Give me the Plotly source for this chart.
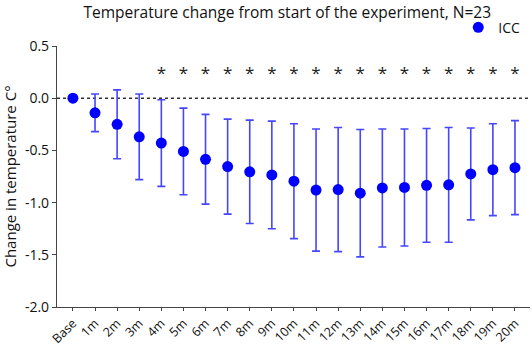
import plotly.graph_objects as go

categories = ["Base", "1m", "2m", "3m", "4m", "5m", "6m", "7m", "8m", "9m", "10m",
              "11m", "12m", "13m", "14m", "15m", "16m", "17m", "18m", "19m", "20m"]
mean_change = [0.0, -0.14, -0.25, -0.37, -0.43, -0.51, -0.585, -0.655, -0.705, -0.735, -0.795,
               -0.88, -0.875, -0.91, -0.86, -0.855, -0.835, -0.83, -0.725, -0.685, -0.665]
sd_change = [0.0, 0.18, 0.33, 0.41, 0.415, 0.415, 0.43, 0.455, 0.495, 0.515, 0.55,
             0.585, 0.595, 0.61, 0.565, 0.56, 0.545, 0.55, 0.44, 0.44, 0.45]
significant = [False, False, False, False] + [True] * 17
star_level = 0.22
y_ticks = [0.5, 0.0, -0.5, -1.0, -1.5, -2.0]
y_tick_labels = ["0.5", "0.0", "-0.5", "-1.0", "-1.5", "-2.0"]

FONT = "Open Sans"

fig = go.Figure()

# dotted zero reference line
fig.add_shape(type="line", xref="paper", yref="y", x0=0, x1=1, y0=0, y1=0,
              line=dict(color="#333333", width=1.5, dash="dot"), layer="below")

fig.add_trace(go.Scatter(
    x=categories, y=mean_change, mode="markers", name="ICC",
    marker=dict(color="#0000ff", size=11),
    error_y=dict(type="data", array=sd_change, visible=True,
                 color="#4646ff", thickness=1.6, width=4),
))

star_x = [c for c, s in zip(categories, significant) if s]
fig.add_trace(go.Scatter(
    x=star_x, y=[star_level] * len(star_x), mode="text", text=["*"] * len(star_x),
    textfont=dict(family=FONT, size=17, color="#222222"), showlegend=False,
    hoverinfo="skip",
))

fig.update_layout(
    width=532, height=347,
    margin=dict(l=57, r=2, t=46, b=40),
    paper_bgcolor="white", plot_bgcolor="white",
    font=dict(family=FONT, color="#111111"),
    title=dict(text="Temperature change from start of the experiment, N=23",
               x=0.54, xanchor="center", y=0.965, yanchor="middle",
               font=dict(family=FONT, size=15.5, color="#111111")),
    showlegend=True,
    legend=dict(x=0.99, xanchor="right", y=1.07, yanchor="middle",
                bgcolor="rgba(0,0,0,0)", font=dict(family=FONT, size=14),
                itemwidth=30),
)

fig.update_xaxes(
    type="category", range=[-0.72, 20.68], automargin=False,
    showline=True, linecolor="#444444", linewidth=1.2,
    ticks="outside", ticklen=3, tickcolor="#444444",
    tickangle=-45, tickfont=dict(family=FONT, size=12.5),
    showgrid=False, zeroline=False,
)
fig.update_yaxes(
    range=[-2.0, 0.5], tickvals=y_ticks, ticktext=y_tick_labels, automargin=False,
    showline=True, linecolor="#444444", linewidth=1.2,
    ticks="outside", ticklen=4, tickcolor="#444444",
    tickfont=dict(family=FONT, size=14),
    title=dict(text="Change in temperature C°", font=dict(family=FONT, size=15), standoff=6),
    showgrid=False, zeroline=False,
)

fig.write_html("out.html", config={"displayModeBar": False},
               post_script="document.body.style.margin='0px';")
